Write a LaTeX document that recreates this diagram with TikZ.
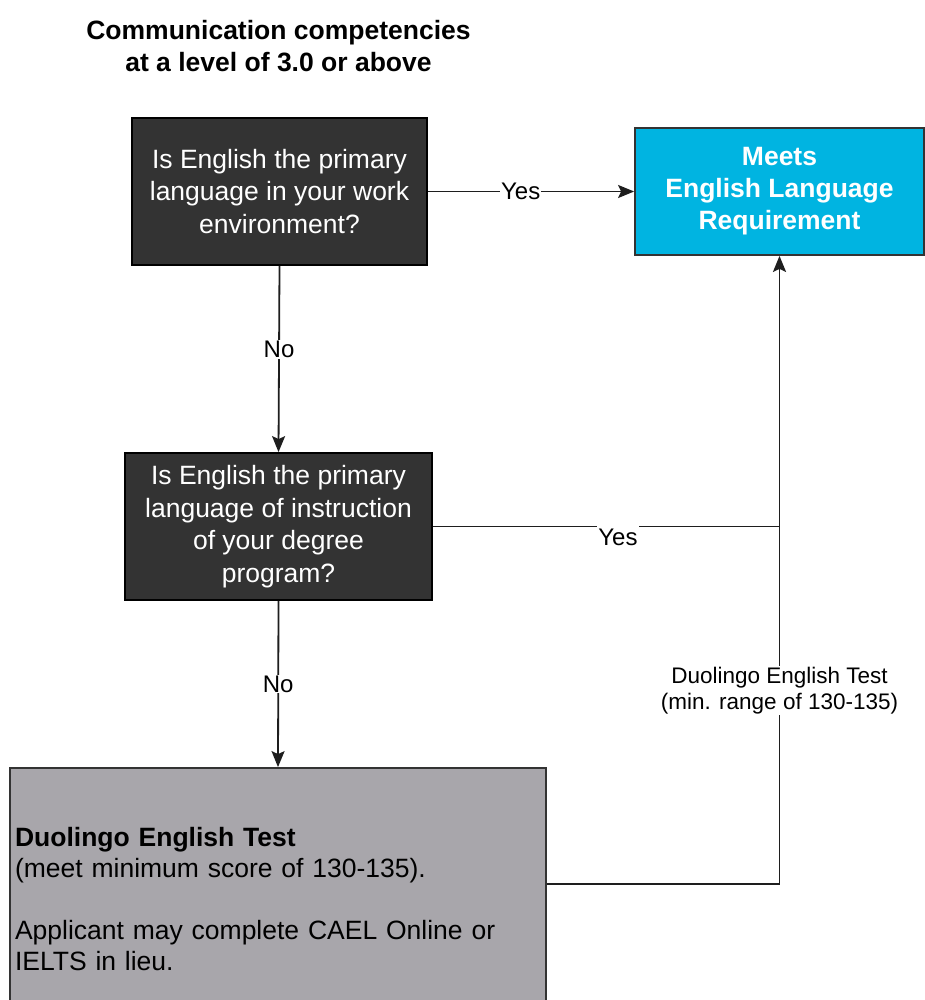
\documentclass[tikz,border=0pt]{standalone}
\usepackage{fontspec}
\setmainfont{Liberation Sans}
\usetikzlibrary{arrows.meta}
\definecolor{darkbox}{RGB}{51,51,51}
\definecolor{cyanbox}{RGB}{0,180,225}
\definecolor{graybox}{RGB}{168,166,171}
\definecolor{linec}{RGB}{30,30,30}
\begin{document}
\begin{tikzpicture}[x=1pt,y=-1pt,
  qbox/.style={draw=black, line width=1.8pt, fill=darkbox, text=white, align=center,
    font=\fontsize{26.5}{32.5}\selectfont, inner sep=0pt},
  reqbox/.style={draw=black!80, line width=1.8pt, fill=cyanbox, text=white, align=center,
    font=\fontsize{26.5}{32}\selectfont\bfseries, inner sep=0pt},
  infobox/.style={draw=black!80, line width=1.8pt, fill=graybox, text=black, align=left,
    font=\fontsize{26.5}{31}\selectfont, inner xsep=5pt, inner ysep=0pt},
  conn/.style={draw=linec, line width=1.8pt, -{Stealth[length=16pt,width=13pt,inset=3pt]}},
  plainline/.style={draw=linec, line width=1.8pt},
  lbl/.style={fill=white, text=black, inner sep=1pt, font=\fontsize{24}{28}\selectfont},
  smalllbl/.style={fill=white, text=black, inner sep=1pt, align=center, font=\fontsize{22.5}{26.5}\selectfont},
  titlestyle/.style={align=center, text=black, font=\fontsize{26.5}{32}\selectfont\bfseries}
]
\useasboundingbox (0,0) rectangle (925,1000);
\fill[white] (0,0) rectangle (925,1000);

\node[titlestyle] (title) at (278.5,46) {Communication competencies\\at a level of 3.0 or above};

\node[qbox, minimum width=295pt, minimum height=147pt] (q1) at (279.5,191.5)
  {Is English the primary\\language in your work\\environment?};

\node[reqbox, minimum width=289pt, minimum height=127pt] (req) at (779.5,191.5)
  {Meets\\English Language\\Requirement};

\node[qbox, minimum width=307pt, minimum height=147pt] (q2) at (278.5,526.5)
  {Is English the primary\\language of instruction\\of your degree\\program?};

\node[infobox, minimum width=536pt, minimum height=262pt, text width=526pt] (dtest) at (278,899)
  {\textbf{Duolingo English Test}\\(meet minimum score of 130-135).\\[31pt]Applicant may complete CAEL Online or\\IELTS in lieu.};

\draw[conn] (q1.east) -- node[lbl, pos=0.45] {Yes} (req.west);
\draw[conn] (q1.south) -- node[lbl, pos=0.45] {No} (q2.north);
\draw[plainline] (q2.east) -- node[lbl, pos=0.534, yshift=-11pt, inner ysep=3pt] {Yes} (q2.east -| req.south);
\draw[conn] (q2.south) -- node[lbl, pos=0.5] {No} (dtest.north);
\draw[conn] ([yshift=15pt]dtest.east) -| node[smalllbl, pos=0.654] {Duolingo English Test\\(min. range of 130-135)} (req.south);
\end{tikzpicture}
\end{document}
